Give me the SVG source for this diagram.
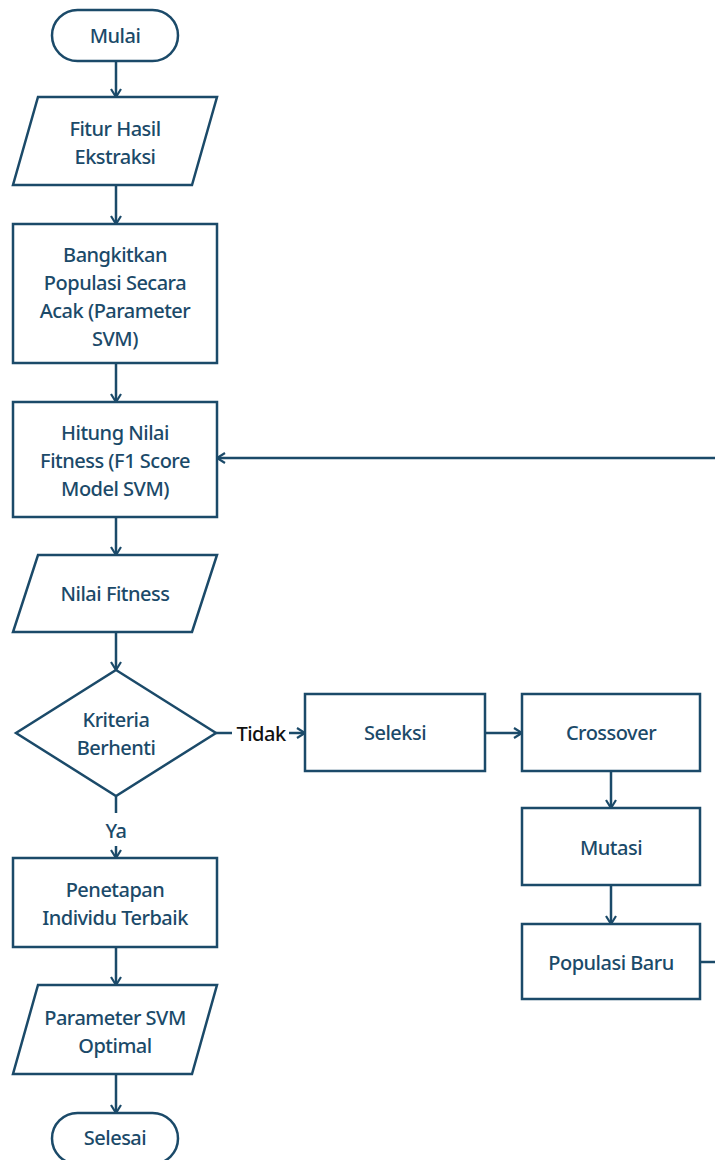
<svg xmlns="http://www.w3.org/2000/svg" width="715" height="1160" viewBox="0 0 715 1160">
<style>
.s{fill:#fff;stroke:#1b4a69;stroke-width:2.5}
.t{font-family:"Noto Sans","Open Sans",sans-serif;font-size:20px;font-weight:500;letter-spacing:-0.5px;fill:#1b4a69;text-anchor:middle;dominant-baseline:central}
.c{fill:none;stroke:#1b4a69;stroke-width:2.5}
</style>
<defs>
<marker id="a" markerWidth="12" markerHeight="12" refX="10" refY="6" orient="auto" markerUnits="userSpaceOnUse">
<path d="M2,1 L10,6 L2,11" fill="none" stroke="#1b4a69" stroke-width="2.2"/>
</marker>
</defs>
<rect width="715" height="1160" fill="#fff"/>
<g id="connectors">
<line class="c" x1="116" y1="61" x2="116" y2="97" marker-end="url(#a)"/>
<line class="c" x1="116" y1="185" x2="116" y2="224" marker-end="url(#a)"/>
<line class="c" x1="116" y1="363" x2="116" y2="402" marker-end="url(#a)"/>
<line class="c" x1="116" y1="517" x2="116" y2="555" marker-end="url(#a)"/>
<line class="c" x1="116" y1="632" x2="116" y2="670" marker-end="url(#a)"/>
<line class="c" x1="216" y1="733" x2="232" y2="733"/>
<line class="c" x1="289" y1="733" x2="305" y2="733" marker-end="url(#a)"/>
<line class="c" x1="485" y1="733" x2="522" y2="733" marker-end="url(#a)"/>
<line class="c" x1="611" y1="771" x2="611" y2="808" marker-end="url(#a)"/>
<line class="c" x1="611" y1="885" x2="611" y2="924" marker-end="url(#a)"/>
<line class="c" x1="700" y1="962" x2="720" y2="962"/>
<line class="c" x1="720" y1="458" x2="217" y2="458" marker-end="url(#a)"/>
<line class="c" x1="116" y1="796" x2="116" y2="813"/>
<line class="c" x1="116" y1="846" x2="116" y2="858" marker-end="url(#a)"/>
<line class="c" x1="116" y1="947" x2="116" y2="985" marker-end="url(#a)"/>
<line class="c" x1="116" y1="1074" x2="116" y2="1113" marker-end="url(#a)"/>
<text class="t" x="261" y="733" style="fill:#111">Tidak</text>
<text class="t" x="116" y="830">Ya</text>
</g>
<g id="mulai"><rect class="s" x="52" y="10" width="126" height="51" rx="25.5"/><text class="t" x="115" y="35">Mulai</text></g>
<g id="fitur"><polygon class="s" points="38,97 217,97 192,185 13,185"/><text class="t" x="115" y="128">Fitur Hasil</text><text class="t" x="115" y="156">Ekstraksi</text></g>
<g id="bangkitkan"><rect class="s" x="13" y="224" width="204" height="139"/><text class="t" x="115" y="254">Bangkitkan</text><text class="t" x="115" y="282">Populasi Secara</text><text class="t" x="115" y="310">Acak (Parameter</text><text class="t" x="115" y="338">SVM)</text></g>
<g id="hitung"><rect class="s" x="13" y="402" width="204" height="115"/><text class="t" x="115" y="432">Hitung Nilai</text><text class="t" x="115" y="460">Fitness (F1 Score</text><text class="t" x="115" y="488">Model SVM)</text></g>
<g id="nilai"><polygon class="s" points="38,555 217,555 192,632 13,632"/><text class="t" x="115" y="593">Nilai Fitness</text></g>
<g id="kriteria"><polygon class="s" points="116,670 216,733 116,796 16,733"/><text class="t" x="116" y="719">Kriteria</text><text class="t" x="116" y="747">Berhenti</text></g>
<g id="seleksi"><rect class="s" x="305" y="694" width="180" height="77"/><text class="t" x="395" y="732">Seleksi</text></g>
<g id="crossover"><rect class="s" x="522" y="694" width="178" height="77"/><text class="t" x="611" y="732">Crossover</text></g>
<g id="mutasi"><rect class="s" x="522" y="808" width="178" height="77"/><text class="t" x="611" y="847">Mutasi</text></g>
<g id="populasi"><rect class="s" x="522" y="924" width="178" height="75"/><text class="t" x="611" y="962">Populasi Baru</text></g>
<g id="penetapan"><rect class="s" x="13" y="858" width="204" height="89"/><text class="t" x="115" y="889">Penetapan</text><text class="t" x="115" y="917">Individu Terbaik</text></g>
<g id="parameter"><polygon class="s" points="38,985 217,985 192,1074 13,1074"/><text class="t" x="115" y="1017">Parameter SVM</text><text class="t" x="115" y="1045">Optimal</text></g>
<g id="selesai"><rect class="s" x="52" y="1113" width="126" height="51" rx="25.5"/><text class="t" x="115" y="1137">Selesai</text></g>
</svg>
